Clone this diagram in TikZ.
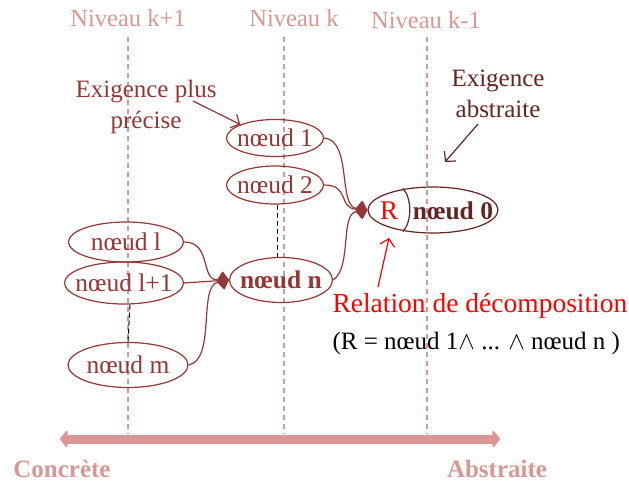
\documentclass[tikz,border=0pt]{standalone}
\usepackage{fontspec}
\setmainfont{Liberation Serif}
\usetikzlibrary{shapes.geometric,arrows.meta,positioning}
\definecolor{rose}{RGB}{217,150,148}
\definecolor{brique}{RGB}{149,55,53}
\definecolor{bordeaux}{RGB}{99,37,35}

\begin{document}
\begin{tikzpicture}[x=1pt, y=-1pt,
    niveau/.style={rose, line width=1.1pt, dash pattern=on 5pt off 4pt},
    niveaulabel/.style={rose, font=\fontsize{24.5}{28}\selectfont},
    noeud/.style={ellipse, draw=brique, line width=1.2pt, text=brique, inner sep=0pt, font=\fontsize{25.5}{28}\selectfont,
        execute at begin node={\hbox to 0pt\bgroup\hss}, execute at end node={\hss\egroup}},
    lien/.style={brique, line width=1.2pt, -{Diamond[length=12pt,width=17pt]}},
    note/.style={align=center, font=\fontsize{25}{31}\selectfont},
    fleche/.style={line width=1.2pt, -{Straight Barb[length=7pt,width=15pt]}},
    suite/.style={black, line width=1pt, dash pattern=on 5pt off 3pt},
    pole/.style={rose, font=\fontsize{25}{28}\selectfont\bfseries},
]
\useasboundingbox (0,0) rectangle (629,483);

% Niveaux
\foreach \x/\y/\nom/\lbl in {128/18/nkp/k+1, 294/18/nk/k, 426/20/nkm/k-1} {
    \node[niveaulabel] (\nom) at (\x,\y) {Niveau \lbl};
}
\foreach \x in {128,284,427} {
    \draw[niveau] (\x,37) -- (\x,434);
}

% Axe concret / abstrait
\node[pole] (concrete) at (62,469) {Concrète};
\node[pole] (abstraite) at (497,469) {Abstraite};
\draw[rose, line width=9pt, {Triangle[length=8pt,width=20pt,round]}-{Triangle[length=8pt,width=20pt,round]}] (60,439) -- (500,439);

% Noeuds
\node[noeud, minimum width=97pt, minimum height=37pt] (n1) at (275,138) {nœud 1};
\node[noeud, minimum width=97pt, minimum height=38pt] (n2) at (275,185) {nœud 2};
\node[noeud, draw=bordeaux, minimum width=130pt, minimum height=46pt] (n0) at (433,210) {};
\node[red, font=\fontsize{27}{30}\selectfont] (r) at (389,211) {R};
\node[bordeaux, font=\fontsize{25.5}{28}\selectfont\bfseries] (n0txt) at (453,211) {nœud 0};
\draw[bordeaux, line width=1.2pt] ([xshift=-30pt,yshift=-2pt]n0.north) .. controls ([xshift=-21pt,yshift=-12pt]n0.north) and ([xshift=-21pt,yshift=12pt]n0.south) .. ([xshift=-30pt,yshift=2pt]n0.south);
\node[noeud, font=\fontsize{25.5}{28}\selectfont\bfseries, minimum width=103pt, minimum height=45pt] (nn) at (281,280) {nœud n};
\node[noeud, minimum width=115pt, minimum height=40pt] (nl) at (126,242) {nœud l};
\node[noeud, minimum width=119pt, minimum height=42pt] (nl1) at (124,283) {nœud l+1};
\node[noeud, minimum width=120pt, minimum height=45pt] (nm) at (128,365) {nœud m};

% Decomposition
\draw[lien] (n1.east) .. controls (352,140) and (338,206) .. (n0.west);
\draw[lien] (n2.east) .. controls (350,185) and (338,208) .. (n0.west);
\draw[lien] (nn.east) .. controls (352,268) and (340,214) .. (n0.west);
\draw[lien] (nl.east) .. controls (212,242) and (200,280) .. (nn.west);
\draw[lien] (nl1.east) -- (nn.west);
\draw[lien] (nm.east) .. controls (216,360) and (198,286) .. (nn.west);
\draw[suite] ([xshift=2pt]n2.south) -- ([xshift=2pt]n2.south |- nn.north);
\draw[suite] ([xshift=6pt]nl1.south) -- (nm.north);

% Annotations
\node[note, brique] (plus) at (146,107) {Exigence plus\\précise};
\coordinate (pa) at (193,101);
\draw[fleche, brique] (pa) -- (n1.north west);
\node[note, bordeaux] (abs) at (498,94) {Exigence\\abstraite};
\coordinate (pb) at (478,124);
\coordinate (pc) at (445,162);
\draw[fleche, bordeaux] (pb) -- (pc);
\node[red, anchor=west, font=\fontsize{27.5}{30}\selectfont] (rel) at (329,306) {Relation de décomposition};
\node[anchor=west, font=\fontsize{25}{28}\selectfont] (formule) at (329,343) {(R = nœud 1$\wedge$ ... $\wedge$ nœud n )};
\coordinate (pr) at (378,287);
\coordinate (ps) at (389,238);
\draw[fleche, red] (pr) -- (ps);

\end{tikzpicture}
\end{document}
